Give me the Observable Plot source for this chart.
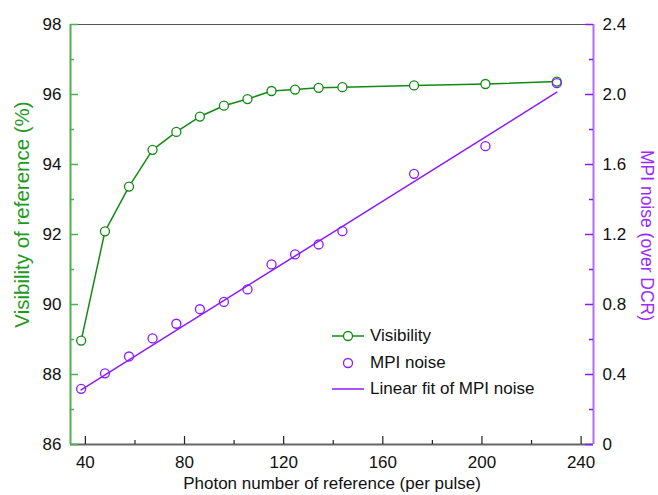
<!DOCTYPE html>
<html>
<head>
<meta charset="utf-8">
<script src="https://cdn.jsdelivr.net/npm/d3@7"></script>
<script src="https://cdn.jsdelivr.net/npm/@observablehq/plot@0.6"></script>
<style>
  html, body { margin: 0; padding: 0; background: #fff; }
  #wrap { position: relative; width: 658px; height: 495px; font-family: "Liberation Sans", Arial, sans-serif; }
  #legend { position: absolute; left: 330px; top: 323px; font-size: 17px; color: #111; }
  #legend .row { display: flex; align-items: center; height: 26.5px; }
  #legend svg { width: 36px; height: 26px; margin-right: 4px; }
</style>
</head>
<body>
<div id="wrap"></div>
<script>
// ---- data ----
const photons = [38.3, 47.9, 57.6, 67.1, 76.7, 86.2, 95.9, 105.4, 115.1, 124.6, 134.1, 143.7, 172.6, 201.4, 230.2];
const visibility = [88.97, 92.09, 93.37, 94.42, 94.93, 95.37, 95.68, 95.87, 96.10, 96.14, 96.19, 96.21, 96.26, 96.30, 96.37];
const mpiNoise = [0.318, 0.407, 0.503, 0.606, 0.690, 0.773, 0.815, 0.886, 1.029, 1.086, 1.143, 1.219, 1.547, 1.705, 2.065];
const fitX = [38.3, 230.2];
const fitMpi = [0.312, 2.013];

const xDomain = [34, 245];
const visDomain = [86, 98];
const mpiDomain = [0, 2.4];
const xTicks = [40, 80, 120, 160, 200, 240];
const xMinor = [60, 100, 140, 180, 220];
const visTicks = [86, 88, 90, 92, 94, 96, 98];
const visMinor = [87, 89, 91, 93, 95, 97];
const mpiTicks = [0, 0.4, 0.8, 1.2, 1.6, 2.0, 2.4];
const mpiMinor = [0.2, 0.6, 1.0, 1.4, 1.8, 2.2];

const xTitle = "Photon number of reference (per pulse)";
const leftTitle = "Visibility of reference (%)";
const rightTitle = "MPI noise (over DCR)";
const legendLabels = ["Visibility", "MPI noise", "Linear fit of MPI noise"];

// ---- colours ----
const green = "#128a12", greenAxis = "#4cb04c", greenTitle = "#1f9a1f";
const purple = "#8c1aff", purpleAxis = "#ad6bff", purpleTitle = "#9a2cff";

// map MPI onto the visibility scale (secondary axis)
const toVis = m => visDomain[0] + (m - mpiDomain[0]) * (visDomain[1] - visDomain[0]) / (mpiDomain[1] - mpiDomain[0]);
const fromVis = v => mpiDomain[0] + (v - visDomain[0]) * (mpiDomain[1] - mpiDomain[0]) / (visDomain[1] - visDomain[0]);

const visData = photons.map((x, i) => ({x, v: visibility[i]}));
const mpiData = photons.map((x, i) => ({x, v: toVis(mpiNoise[i])}));
const fitData = fitX.map((x, i) => ({x, v: toVis(fitMpi[i])}));

const F = 17;
const W = 658, H = 495, ML = 70, MR = 65, MT = 24, MB = 51;
const PW = W - ML - MR, PH = H - MT - MB;
const major = 8, minor = 4;

const chart = Plot.plot({
  width: W,
  height: H,
  marginLeft: ML,
  marginRight: MR,
  marginTop: MT,
  marginBottom: MB,
  style: {fontFamily: '"Liberation Sans", Arial, sans-serif', fontSize: F + "px", color: "#111", background: "#fff"},
  x: {domain: xDomain},
  y: {domain: visDomain},
  marks: [
    // frame
    Plot.ruleY([visDomain[1]], {stroke: "#555", strokeWidth: 1.2}),
    Plot.ruleY([visDomain[0]], {stroke: "#666", strokeWidth: 2}),
    Plot.ruleX([xDomain[0]], {stroke: greenAxis, strokeWidth: 2}),
    Plot.ruleX([xDomain[1]], {stroke: purpleAxis, strokeWidth: 2}),
    // inward ticks
    Plot.tickX(xTicks, {x: d => d, insetTop: PH - major, stroke: "#222", strokeWidth: 1.2}),
    Plot.tickX(xMinor, {x: d => d, insetTop: PH - minor, stroke: "#222", strokeWidth: 1.2}),
    Plot.tickY(visTicks, {y: d => d, insetRight: PW - major, stroke: greenAxis, strokeWidth: 1.5}),
    Plot.tickY(visMinor, {y: d => d, insetRight: PW - minor, stroke: greenAxis, strokeWidth: 1.5}),
    Plot.tickY(mpiTicks.map(toVis), {y: d => d, insetLeft: PW - major, stroke: purple, strokeWidth: 1.5}),
    Plot.tickY(mpiMinor.map(toVis), {y: d => d, insetLeft: PW - minor, stroke: purple, strokeWidth: 1.5}),
    // tick labels
    Plot.axisX(xTicks, {anchor: "bottom", tickSize: 0, tickPadding: 11, fontSize: F, fill: "#111", label: null}),
    Plot.axisY(visTicks, {anchor: "left", tickSize: 0, tickPadding: 9, fontSize: F, fill: "#111", label: null}),
    Plot.axisY(mpiTicks.map(toVis), {anchor: "right", tickSize: 0, tickPadding: 9, fontSize: F, fill: "#111", label: null,
      tickFormat: v => { const m = Math.round(fromVis(v) * 10) / 10; return m === 0 ? "0" : m.toFixed(1); }}),
    // titles
    Plot.text([xTitle], {frameAnchor: "bottom", dy: 39, fontSize: 17, fill: "#111", textAnchor: "middle", lineAnchor: "middle"}),
    Plot.text([leftTitle], {frameAnchor: "left", dx: -48, dy: -20, rotate: -90, fontSize: 20.5, fill: greenTitle, textAnchor: "middle", lineAnchor: "middle"}),
    Plot.text([rightTitle], {frameAnchor: "right", dx: 53, dy: 1, rotate: 90, fontSize: 17.5, fill: purpleTitle, textAnchor: "middle", lineAnchor: "middle"}),
    // data
    Plot.line(visData, {x: "x", y: "v", stroke: green, strokeWidth: 1.5}),
    Plot.dot(visData, {x: "x", y: "v", r: 4.5, stroke: green, fill: "#fff", strokeWidth: 1.3}),
    Plot.line(fitData, {x: "x", y: "v", stroke: purple, strokeWidth: 1.5}),
    Plot.dot(mpiData, {x: "x", y: "v", r: 4.5, stroke: purple, fill: "none", strokeWidth: 1.3})
  ]
});

const wrap = document.getElementById("wrap");
wrap.appendChild(chart);

// legend overlay
const legend = document.createElement("div");
legend.id = "legend";
const sym = [
  `<line x1="2" y1="13" x2="34" y2="13" stroke="${green}" stroke-width="1.5"/><circle cx="18" cy="13" r="4.5" fill="#fff" stroke="${green}" stroke-width="1.3"/>`,
  `<circle cx="18" cy="13" r="4.5" fill="none" stroke="${purple}" stroke-width="1.3"/>`,
  `<line x1="2" y1="13" x2="34" y2="13" stroke="${purple}" stroke-width="1.5"/>`
];
legend.innerHTML = legendLabels.map((t, i) =>
  `<div class="row"><svg viewBox="0 0 36 26">${sym[i]}</svg><span>${t}</span></div>`).join("");
wrap.appendChild(legend);
</script>
</body>
</html>
